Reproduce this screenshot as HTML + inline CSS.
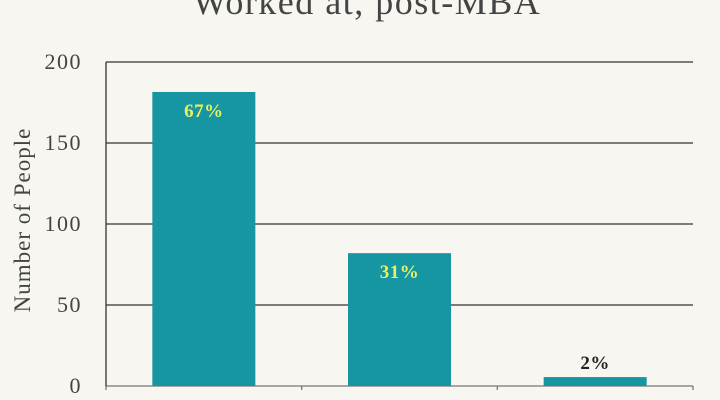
<!DOCTYPE html>
<html><head><meta charset="utf-8"><style>
body{margin:0;background:#f7f6f0;}
svg{display:block;font-family:"Liberation Serif",serif;}
</style></head><body>
<svg id="chart" width="720" height="400">
<rect width="720" height="400" fill="#f7f6f0"/>
<text x="367" y="14" text-anchor="middle" font-size="36" letter-spacing="1.5" fill="#444">Worked at, post-MBA</text>
<text transform="translate(30,220) rotate(-90)" text-anchor="middle" font-size="23" letter-spacing="1" fill="#444">Number of People</text>
<g id="grid"></g><g id="bars"></g>
</svg>
<script>
const categories=["A","B","C"];
const values=[181.5,82,5.5];
const labels=["67%","31%","2%"];
const ticks=[0,50,100,150,200];
const NS="http://www.w3.org/2000/svg";
const x0=106,x1=693,y0=386,y1=62,ymax=200;
const y=v=>y0-(v/ymax)*(y0-y1);
const band=(x1-x0)/categories.length;
const xc=i=>x0+band*(i+0.5);
function mk(t,a,p){const e=document.createElementNS(NS,t);for(const k in a)e.setAttribute(k,a[k]);p.appendChild(e);return e;}
const g=document.getElementById('grid'),b=document.getElementById('bars');
ticks.forEach(t=>{
 const l=mk('line',{x1:x0,x2:x1,y1:y(t),y2:y(t),stroke:t===0?'#777':'#333','stroke-width':1.3},g);
 
 
 const tx=mk('text',{x:82,y:y(t)+7,'text-anchor':'end','font-size':22,'letter-spacing':1.5,fill:'#444'},g);
 tx.textContent=t;
 
 
});
const ax=mk('line',{x1:x0,x2:x0,y1:y1,y2:y0,stroke:'#333','stroke-width':1.3},g);


for(let i=0;i<=categories.length;i++){
 const tk=mk('line',{x1:x0+band*i,x2:x0+band*i,y1:y0,y2:y0+4,stroke:'#777','stroke-width':1.3},g);
 
 
}
const bw=103;
values.forEach((v,i)=>{
 const r=mk('rect',{x:xc(i)-bw/2,y:y(v),width:bw,height:y0-y(v),fill:'#1596a2'},b);
 
 
 const small=(y0-y(v))<30;
 const t=mk('text',{x:xc(i),y:small?y(v)-8:y(v)+25,'text-anchor':'middle','font-size':19,'font-weight':'bold','letter-spacing':0.5,fill:small?'#222':'#e8f060'},b);
 t.textContent=labels[i];
 
 
});
</script>
</body></html>
